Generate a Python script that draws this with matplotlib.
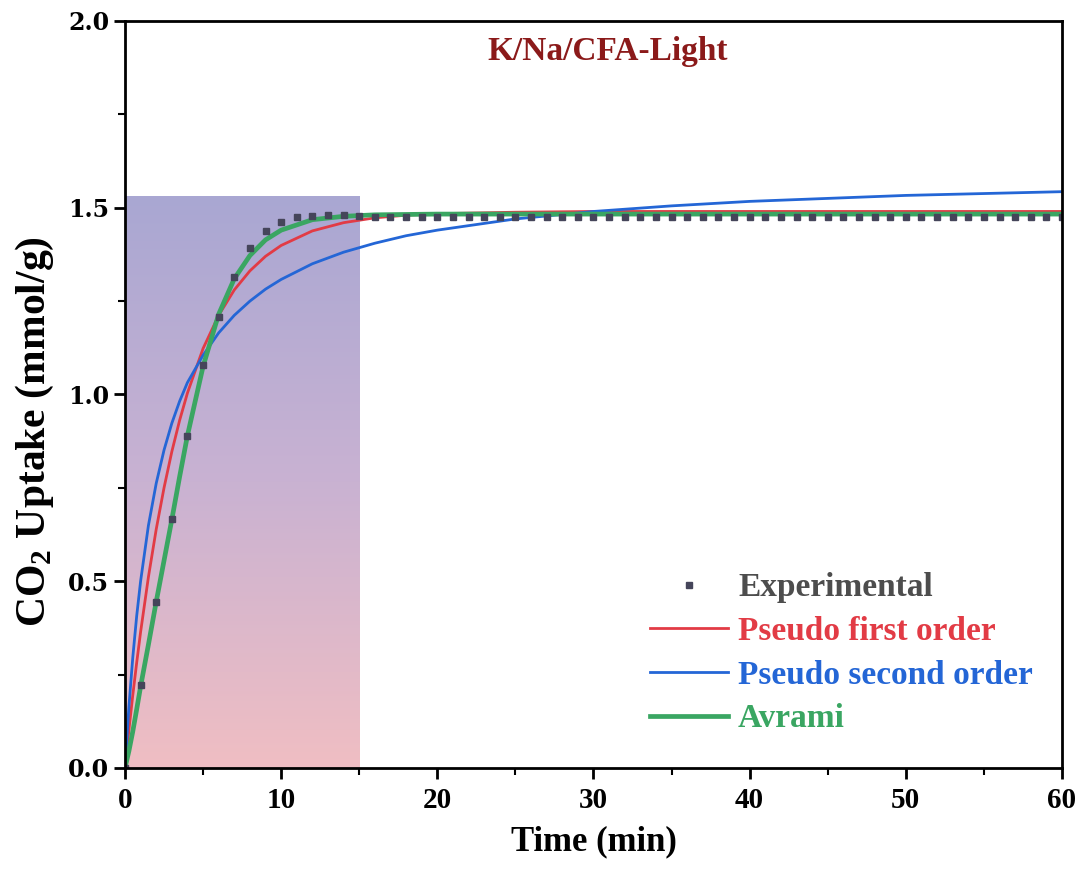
import numpy as np
import matplotlib
matplotlib.use("Agg")
import matplotlib.pyplot as plt
from matplotlib.colors import LinearSegmentedColormap

# experimental points (every minute)
t_exp = list(range(0, 61))
q_exp = [0.0, 0.222, 0.444, 0.667, 0.889, 1.079, 1.208, 1.315, 1.391, 1.438,
         1.461, 1.474, 1.479, 1.480, 1.480, 1.477, 1.475, 1.475, 1.475, 1.475,
         1.475, 1.475, 1.475, 1.475, 1.475, 1.475, 1.475, 1.475, 1.475, 1.475,
         1.475, 1.475, 1.475, 1.475, 1.475, 1.475, 1.475, 1.475, 1.475, 1.475,
         1.475, 1.475, 1.475, 1.475, 1.475, 1.475, 1.475, 1.475, 1.475, 1.475,
         1.475, 1.475, 1.475, 1.475, 1.475, 1.475, 1.475, 1.475, 1.475, 1.475,
         1.475]

# fitted curves
t_fit = [0, 0.25, 0.5, 0.75, 1, 1.5, 2, 2.5, 3, 3.5, 4, 5, 6, 7, 8, 9, 10,
         12, 14, 16, 18, 20, 25, 30, 35, 40, 45, 50, 55, 60]
q_pfo = [0, 0.101, 0.195, 0.282, 0.364, 0.511, 0.639, 0.750, 0.847, 0.931,
         1.004, 1.123, 1.212, 1.280, 1.331, 1.370, 1.399, 1.438, 1.460, 1.473,
         1.480, 1.484, 1.488, 1.490, 1.490, 1.490, 1.490, 1.490, 1.490, 1.490]
q_pso = [0, 0.163, 0.296, 0.407, 0.500, 0.649, 0.762, 0.851, 0.923, 0.982,
         1.032, 1.105, 1.165, 1.212, 1.250, 1.282, 1.308, 1.350, 1.381, 1.405,
         1.425, 1.440, 1.470, 1.490, 1.505, 1.517, 1.525, 1.533, 1.538, 1.543]
q_avr = [0, 0.045, 0.098, 0.157, 0.218, 0.330, 0.445, 0.555, 0.665, 0.780,
         0.890, 1.075, 1.215, 1.310, 1.372, 1.414, 1.440, 1.468, 1.477, 1.481,
         1.482, 1.483, 1.483, 1.483, 1.483, 1.483, 1.483, 1.483, 1.483, 1.483]

shade_x = [0, 15]
shade_y = [0, 1.53]

plt.rcParams['font.family'] = ['Liberation Serif', 'DejaVu Serif']
plt.rcParams['font.weight'] = 'bold'
plt.rcParams['mathtext.fontset'] = 'custom'
plt.rcParams['mathtext.bf'] = 'Liberation Serif:bold'
plt.rcParams['mathtext.rm'] = 'Liberation Serif:bold'

fig = plt.figure(figsize=(10.83, 8.71), dpi=100)
ax = fig.add_axes([0.1154, 0.1183, 0.8652, 0.8576])

# gradient shaded region
cmap = LinearSegmentedColormap.from_list("sh", ["#f0bec3", "#c9b2d2", "#a9a7d3"])
grad = np.linspace(0, 1, 256).reshape(-1, 1)
ax.imshow(grad, cmap=cmap, origin="lower", aspect="auto",
          extent=[shade_x[0], shade_x[1], shade_y[0], shade_y[1]], zorder=0)

ax.plot(t_fit, q_pfo, color="#e23b45", lw=2.0, zorder=3, label="Pseudo first order")
ax.plot(t_fit, q_pso, color="#2466d6", lw=2.0, zorder=3, label="Pseudo second order")
ax.plot(t_fit, q_avr, color="#3aa662", lw=3.4, zorder=4, label="Avrami")
ax.plot(t_exp, q_exp, ls="none", marker="s", ms=4.6, color="#45455a", zorder=5,
        label="Experimental")

ax.set_xlim(0, 60)
ax.set_ylim(0, 2.0)
ax.set_xticks(range(0, 61, 10))
ax.set_xticks(range(5, 60, 10), minor=True)
ax.set_yticks([0, 0.5, 1.0, 1.5, 2.0])
ax.set_yticks([0.25, 0.75, 1.25, 1.75], minor=True)
ax.set_yticklabels(["0.0", "0.5", "1.0", "1.5", "2.0"],
                   fontdict={"family": "DejaVu Serif", "weight": "bold", "size": 17})
ax.set_xticklabels([str(v) for v in range(0, 61, 10)],
                   fontdict={"weight": "bold", "size": 21})
ax.tick_params(which="major", direction="out", length=8, width=2)
ax.tick_params(axis="x", which="major", pad=6)
ax.tick_params(which="minor", direction="out", length=5, width=1.5)
for s in ax.spines.values():
    s.set_linewidth(2)
    s.set_zorder(6)

ax.set_xlabel("Time (min)", fontsize=25, fontweight="bold", labelpad=8)
ax.set_ylabel("CO$_\\mathbf{2}$ Uptake (mmol/g)", fontsize=30, fontweight="bold")
ax.yaxis.set_label_coords(-0.074, 0.45)

ax.text(30.9, 1.917, "K/Na/CFA-Light", color="#8b1a1a", fontsize=24,
        fontweight="bold", ha="center", va="center")

h, l = ax.get_legend_handles_labels()
order = [3, 0, 1, 2]
leg = ax.legend([h[i] for i in order], [l[i] for i in order], loc="upper left",
                bbox_to_anchor=(0.56, 0.262), frameon=False, fontsize=24,
                handlelength=2.35, handletextpad=0.3, labelspacing=0.38,
                borderpad=0, borderaxespad=0)
for txt, c in zip(leg.get_texts(), ["#4d4d4d", "#e23b45", "#2466d6", "#3aa662"]):
    txt.set_color(c)
    txt.set_fontweight("bold")

fig.savefig("out.png", dpi=100)
